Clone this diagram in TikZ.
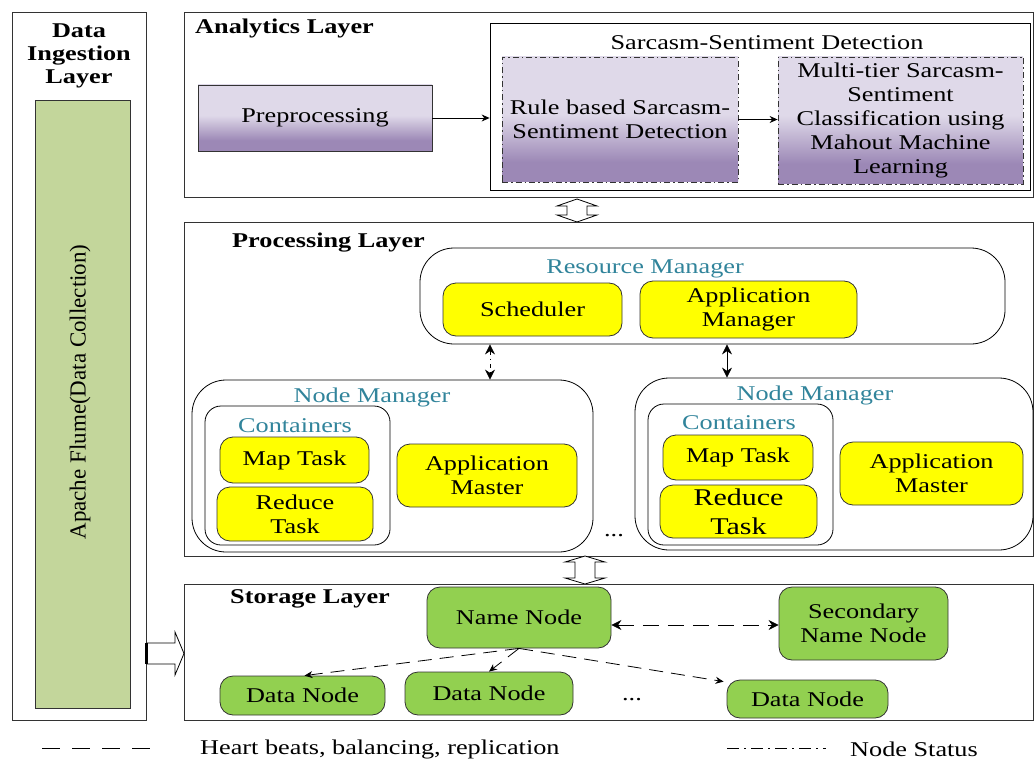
\documentclass[tikz,border=0pt]{standalone}
\usepackage{fontspec}
\setmainfont{Liberation Serif}[FakeStretch=1.25]
\newfontfamily\plainserif{Liberation Serif}
\usetikzlibrary{arrows.meta,calc}
\definecolor{ingreen}{HTML}{C3D69B}
\definecolor{ngreen}{HTML}{92D050}
\definecolor{yel}{HTML}{FFFF00}
\definecolor{teal}{HTML}{31849B}
\definecolor{purpL}{HTML}{DFD9E9}
\definecolor{purpD}{HTML}{9C88B6}
\pgfdeclareverticalshading{purp}{100bp}{color(0bp)=(purpD); color(33bp)=(purpD); color(52bp)=(purpL); color(100bp)=(purpL)}
\tikzset{
  layer/.style={draw=black!80, line width=0.8pt, inner sep=0pt},
  pbox/.style={draw=black!80, line width=0.8pt, inner sep=0pt, shading=purp, align=center},
  dd/.style={dash pattern=on 6pt off 3pt on 1.5pt off 3pt},
  ybox/.style={draw=black!80, line width=0.8pt, fill=yel, rounded corners=13pt, inner sep=0pt, align=center},
  gbox/.style={draw=black!80, line width=0.8pt, fill=ngreen, rounded corners=13pt, inner sep=0pt, align=center},
  rbox/.style={draw=black, line width=0.8pt, rounded corners=34pt, inner sep=0pt},
  tealtxt/.style={text=teal, inner sep=0pt},
  ttl/.style={font=\fontsize{21}{23}\selectfont\bfseries, inner sep=0pt},
  arr/.style={line width=0.8pt, -{Stealth[length=8pt,width=7pt]}},
  darr/.style={line width=0.8pt, {Stealth[length=10pt,width=10pt]}-{Stealth[length=10pt,width=10pt]}},
  hollow/.style={draw=black, line width=0.8pt, fill=white},
}
\begin{document}
\begin{tikzpicture}[x=1pt, y=-1pt, font=\fontsize{21}{24}\selectfont]
\useasboundingbox (0,0) rectangle (1035,762);

% Data ingestion layer
\node[layer, minimum width=134pt, minimum height=708pt] (ing) at (79,366) {};
\node[ttl, align=center] (ingt) at (79,56) {Data\\Ingestion\\Layer};
\node[layer, fill=ingreen, minimum width=95pt, minimum height=608pt] (flume) at (82.5,404) {};
\node[rotate=90, inner sep=0pt, font=\plainserif\fontsize{23}{25}\selectfont] (flumet) at (80,392) {Apache Flume(Data Collection)};

% Analytics layer
\node[layer, minimum width=849pt, minimum height=185pt] (ana) at (608.5,104.5) {};
\node[ttl, anchor=west] (anat) at (195,28) {Analytics Layer};
\node[pbox, minimum width=234pt, minimum height=66pt] (prep) at (315,118) {Preprocessing};
\node[draw=black, line width=0.8pt, minimum width=540pt, minimum height=167pt, inner sep=0pt] (ssd) at (760,106.5) {};
\node[inner sep=0pt] (ssdt) at (767,43) {Sarcasm-Sentiment Detection};
\node[pbox, dd, minimum width=236pt, minimum height=125pt] (rule) at (620,119.5) {Rule based Sarcasm-\\Sentiment Detection};
\node[pbox, dd, minimum width=245pt, minimum height=127pt] (multi) at (900.5,120.5) {Multi-tier Sarcasm-\\Sentiment\\Classification using\\Mahout Machine\\Learning};
\draw[arr] (prep.east) -- (prep.east -| ssd.west);
\draw[arr] (rule.east) -- (rule.east -| multi.west);

% hollow double arrow analytics <-> processing
\draw[hollow] (577,199) -- (597,206) -- (587,206) -- (587,215) -- (597,215) -- (577,222)
  -- (557,215) -- (567,215) -- (567,206) -- (557,206) -- cycle;

% Processing layer
\node[layer, minimum width=849pt, minimum height=334pt] (proc) at (608.5,389) {};
\node[ttl, anchor=west] (proct) at (232,243) {Processing Layer};
\node[rbox, minimum width=585pt, minimum height=96pt] (rm) at (712.5,296) {};
\node[tealtxt] (rmt) at (645,269) {Resource Manager};
\node[ybox, minimum width=179pt, minimum height=53pt] (sched) at (532.5,309.5) {Scheduler};
\node[ybox, minimum width=217pt, minimum height=57pt] (appmgr) at (748.5,309.5) {Application\\Manager};

% Node manager 1
\node[rbox, minimum width=401pt, minimum height=172pt] (nm1) at (392.5,466) {};
\node[tealtxt] (nm1t) at (372,397) {Node Manager};
\node[draw=black, line width=0.8pt, rounded corners=16pt, minimum width=185pt, minimum height=139pt, inner sep=0pt] (cont1) at (297.5,475.5) {};
\node[tealtxt] (cont1t) at (295,426) {Containers};
\node[ybox, minimum width=149pt, minimum height=46pt] (map1) at (294.5,460) {Map Task};
\node[ybox, minimum width=156pt, minimum height=54pt] (red1) at (295,514) {Reduce\\Task};
\node[ybox, minimum width=180pt, minimum height=63pt] (am1) at (487,475.5) {Application\\Master};
\node[inner sep=0pt] (dots1) at (614,536) {...};

% Node manager 2
\node[rbox, minimum width=398pt, minimum height=172pt] (nm2) at (834,464) {};
\node[tealtxt] (nm2t) at (815,395) {Node Manager};
\node[draw=black, line width=0.8pt, rounded corners=16pt, minimum width=185pt, minimum height=141pt, inner sep=0pt] (cont2) at (740.5,474.5) {};
\node[tealtxt] (cont2t) at (739,423) {Containers};
\node[ybox, minimum width=150pt, minimum height=45pt] (map2) at (738,457.5) {Map Task};
\node[ybox, minimum width=157pt, minimum height=53pt, font=\fontsize{24}{29}\selectfont] (red2) at (738.5,511.5) {Reduce\\Task};
\node[ybox, minimum width=183pt, minimum height=63pt] (am2) at (931.5,473.5) {Application\\Master};

% RM <-> NM arrows
\draw[darr, dash pattern=on 4pt off 4pt on 1.5pt off 4pt] ([xshift=-222.5pt]rm.south) -- ([xshift=97.5pt]nm1.north);
\draw[darr] ([xshift=14.5pt]rm.south) -- ([xshift=-107pt]nm2.north);

% hollow double arrow processing <-> storage
\draw[hollow] (585,556) -- (605,562) -- (595,562) -- (595,578) -- (605,578) -- (585,584)
  -- (565,578) -- (575,578) -- (575,562) -- (565,562) -- cycle;

% Storage layer
\node[layer, minimum width=849pt, minimum height=136pt] (sto) at (608.5,652) {};
\node[ttl, anchor=west] (stot) at (230,599) {Storage Layer};
\node[gbox, minimum width=184pt, minimum height=61pt] (nn) at (519,617.5) {Name Node};
\node[gbox, minimum width=169pt, minimum height=73pt] (snn) at (863.5,623.5) {Secondary\\Name Node};
\node[gbox, minimum width=165pt, minimum height=39pt] (dn1) at (302.5,695.5) {Data Node};
\node[gbox, minimum width=168pt, minimum height=43pt] (dn2) at (489,693.5) {Data Node};
\node[gbox, minimum width=161pt, minimum height=38pt] (dn3) at (807.5,699) {Data Node};
\node[inner sep=0pt] (dots2) at (632,700) {...};

\draw[darr, dash pattern=on 16pt off 9pt] ([yshift=-7.5pt]nn.east) -- ([yshift=-7.5pt]nn.east -| snn.west);
\draw[arr, dash pattern=on 14pt off 8pt] (nn.south) -- ([xshift=2pt]dn1.north);
\draw[arr, dash pattern=on 14pt off 8pt] (nn.south) -- (dn2.north);
\draw[arr, dash pattern=on 14pt off 8pt] (nn.south) -- ([xshift=-3pt,yshift=-2pt]dn3.north west);

% ingestion -> storage hollow arrow
\draw[hollow] (147,643) -- (175,643) -- (175,632) -- (184,653.5) -- (175,675) -- (175,664) -- (147,664) -- cycle;
\draw[line width=2.5pt] (ing.east |- 0,643) -- (ing.east |- 0,664);

% Legend
\coordinate (lg1a) at (42,748);
\coordinate (lg1b) at (150,748);
\draw[line width=0.8pt, dash pattern=on 18pt off 12pt] (lg1a) -- (lg1b);
\node[anchor=west, inner sep=0pt] (lg1t) at (200,749) {Heart beats, balancing, replication};
\coordinate (lg2a) at (727,748);
\coordinate (lg2b) at (826,748);
\draw[line width=0.8pt, dash pattern=on 12pt off 5pt on 2pt off 5pt] (lg2a) -- (lg2b);
\node[anchor=west, inner sep=0pt] (lg2t) at (850,749) {Node Status};
\end{tikzpicture}
\end{document}
